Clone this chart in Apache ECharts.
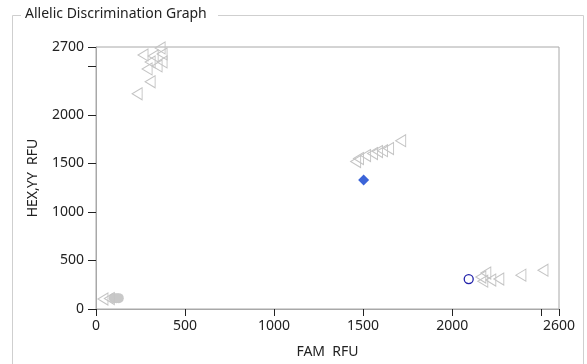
<!DOCTYPE html>
<html><head><meta charset="utf-8">
<script src="https://cdn.jsdelivr.net/npm/echarts@6/dist/echarts.min.js"></script>
<style>html,body{margin:0;padding:0;background:#fff}#c{width:587px;height:364px}</style>
</head><body><div id="c"></div>
<script>
// Data
var xTickMax = 2600, yTickMax = 2700;
var undeterminedTriangles = [
  [360,2690],[264,2618],[371,2628],[321,2608],[304,2546],[371,2546],[287,2474],[343,2505],[304,2341],[231,2218],
  [1711,1735],[1643,1653],[1609,1632],[1581,1622],[1553,1602],[1514,1581],[1474,1550],[1458,1520],
  [2161,329],[2189,370],[2172,287],[2217,298],[2262,308],[2386,349],[2510,400],
  [39,103],[75,108]
];
var ntcPoints = [[100,112],[115,112],[128,112]];
var heteroPoint = [[1503,1330]];
var famPoint = [[2093,308]];

var chart = echarts.init(document.getElementById('c'), null, {renderer:'canvas'});
var fontFam = '"Noto Sans", "Open Sans", sans-serif';
var tri = 'path://M10,0 L0,5 L10,10 Z';
chart.setOption({
  animation:false,
  backgroundColor:'#fff',
  graphic:[
    {type:'rect', shape:{x:12.5,y:15.5,width:571,height:360}, style:{fill:'none', stroke:'#cfcfcf', lineWidth:1}, z:0},
    {type:'rect', shape:{x:21,y:7,width:197,height:16}, style:{fill:'#fff'}, z:1},
    {type:'text', left:25, top:7, style:{text:'Allelic Discrimination Graph', font:'14px '+fontFam, fill:'#222'}, z:2}
  ],
  grid:{left:96, top:47, right:28, bottom:53, show:true, borderColor:'#a8a8a8', borderWidth:1, backgroundColor:'#fff'},
  xAxis:{
    type:'value', min:0, max:xTickMax, interval:500,
    name:'FAM  RFU', nameLocation:'middle', nameGap:36,
    nameTextStyle:{fontFamily:fontFam, fontSize:14, color:'#222'},
    axisLine:{show:true, lineStyle:{color:'#a8a8a8'}},
    axisTick:{show:true, length:7, lineStyle:{color:'#222'}},
    axisLabel:{fontFamily:fontFam, fontSize:14, color:'#222', margin:10, showMaxLabel:true,
      formatter:function(v){return v===2500?'':String(v);}},
    splitLine:{show:false}
  },
  yAxis:{
    type:'value', min:0, max:yTickMax, interval:500,
    name:'HEX,YY  RFU', nameLocation:'middle', nameGap:56,
    nameTextStyle:{fontFamily:fontFam, fontSize:14, color:'#222'},
    axisLine:{show:true, lineStyle:{color:'#a8a8a8'}},
    axisTick:{show:true, length:8, lineStyle:{color:'#222'}},
    axisLabel:{fontFamily:fontFam, fontSize:14, color:'#222', margin:12, showMaxLabel:true,
      formatter:function(v){return v===2500?'':String(v);}},
    splitLine:{show:false}
  },
  series:[
    {type:'scatter', data:ntcPoints, symbol:'circle', symbolSize:10,
      itemStyle:{color:'#c8c8c8', opacity:1}},
    {type:'scatter', data:undeterminedTriangles, symbol:tri, symbolSize:[10,12],
      itemStyle:{color:'rgba(255,255,255,0)', borderColor:'#c4c4c4', borderWidth:1, opacity:1}},
    {type:'scatter', data:heteroPoint, symbol:'diamond', symbolSize:11,
      itemStyle:{color:'#3b64d8', opacity:1}},
    {type:'scatter', data:famPoint, symbol:'circle', symbolSize:9,
      itemStyle:{color:'#fff', borderColor:'#2222aa', borderWidth:1.3, opacity:1}}
  ]
});
</script></body></html>
